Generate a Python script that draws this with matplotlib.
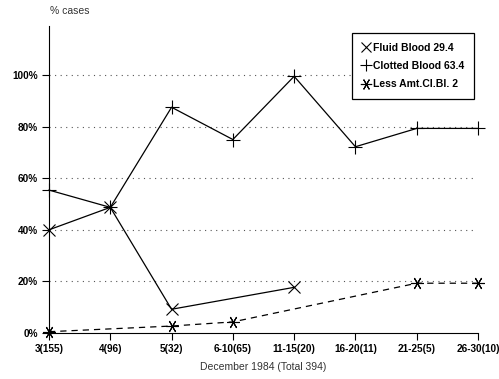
import matplotlib
matplotlib.use("Agg")
import matplotlib.pyplot as plt
import numpy as np

categories = ["3(155)", "4(96)", "5(32)", "6-10(65)", "11-15(20)",
              "16-20(11)", "21-25(5)", "26-30(10)"]
fluid = [40, 48.7, 9.2, np.nan, 17.7, np.nan, np.nan, np.nan]
clotted = [55.4, 48.7, 87.5, 75, 99.5, 72.2, 79.3, 79.3]
less = [0.5, np.nan, 2.7, 4.3, np.nan, np.nan, 19.3, 19.3]
yticks = [0, 20, 40, 60, 80, 100]

plt.rcParams["font.family"] = ["Liberation Sans", "DejaVu Sans"]

fig = plt.figure(figsize=(4.99, 3.79), dpi=100)
ax = fig.add_axes([49 / 499, 1 - 333 / 379, (478 - 49) / 499, (333 - 26) / 379])

x = np.arange(len(categories))


def draw(vals, marker, ms, ls, label):
    v = np.array(vals, dtype=float)
    m = ~np.isnan(v)
    ax.plot(x[m], v[m], color="black", lw=0.9, ls=ls, marker=marker,
            ms=ms, mew=0.8, label=label, clip_on=False, zorder=3)


draw(fluid, "x", 8, "-", "Fluid Blood 29.4")
draw(clotted, "+", 10, "-", "Clotted Blood 63.4")
draw(less, (6, 2, 90), 9, (0, (5, 4)), "Less Amt.Cl.Bl. 2")

ax.set_xlim(0, 7)
ax.set_ylim(0, 119)
ax.set_yticks(yticks)
ax.set_yticklabels(["%d%%" % t for t in yticks], fontsize=7.2, fontweight="bold")
ax.set_xticks(x)
ax.set_xticklabels(categories, fontsize=7.2, fontweight="bold")
for t in yticks[1:]:
    ax.axhline(t, xmax=0.99, color="#555555", lw=0.8, ls=(0, (1, 4)), zorder=1)

ax.spines["top"].set_visible(False)
ax.spines["right"].set_visible(False)
ax.tick_params(direction="out", length=5, width=0.8, pad=3)
ax.set_xlabel("December 1984 (Total 394)", fontsize=7.5, color="#333333", labelpad=6)
fig.text(50 / 499, 1 - 11 / 379, "% cases", fontsize=7.5, color="#333333", va="center")

leg = ax.legend(loc="upper right", bbox_to_anchor=(1.003, 0.993), fancybox=False,
                framealpha=1, edgecolor="black", prop={"size": 7.5, "weight": "bold"},
                handlelength=0.9, handletextpad=0.3, borderpad=0.9, labelspacing=0.8,
                markerscale=0.9)
leg.get_frame().set_linewidth(0.9)
for h in leg.get_lines():
    h.set_linestyle("none")

fig.savefig("out.png", dpi=100)
